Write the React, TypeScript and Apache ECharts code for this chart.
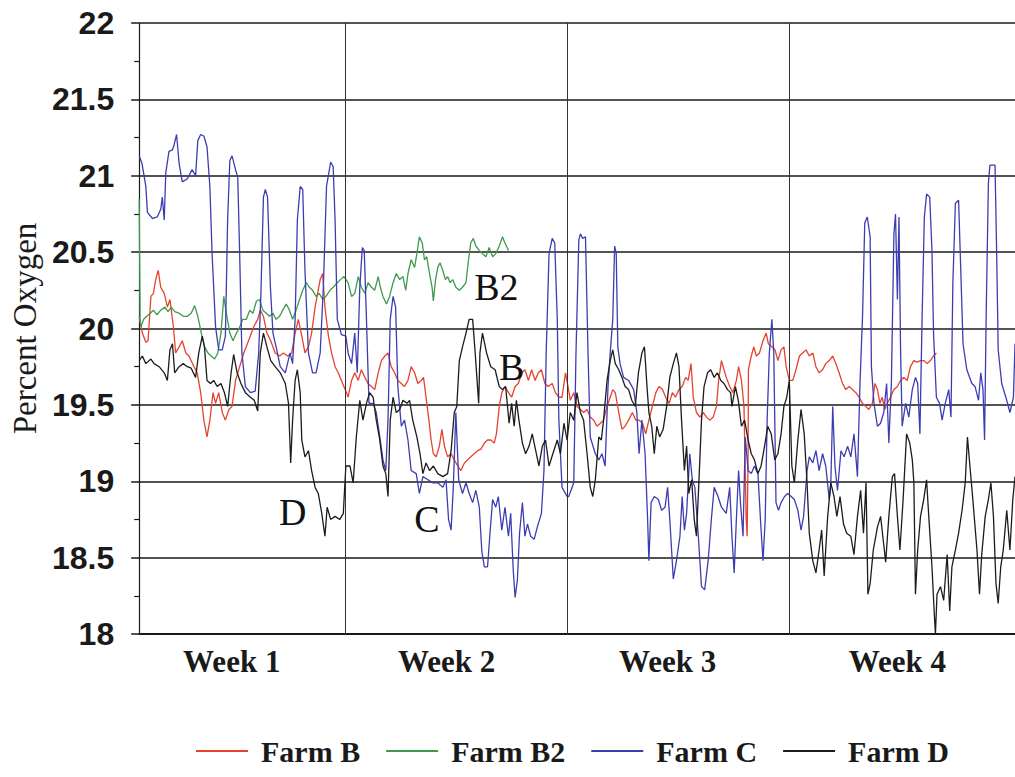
import React, { useEffect, useRef } from "react";
import * as echarts from "echarts";

// [day, percent oxygen]
const farmB: [number, number][] = [
  [0.50,20.08],[0.60,19.97],[0.71,19.91],[0.78,19.92],[0.87,20.21],[0.95,20.23],[1.02,20.32],[1.10,20.38],[1.18,20.27],[1.29,20.23],
  [1.39,20.14],[1.47,20.19],[1.58,20.01],[1.65,19.84],[1.76,19.88],[1.86,19.92],[1.97,19.84],[2.07,19.82],[2.23,19.75],[2.33,19.71],
  [2.44,19.58],[2.54,19.40],[2.64,19.29],[2.73,19.40],[2.83,19.58],[2.91,19.51],[3.01,19.58],[3.12,19.45],[3.22,19.40],[3.33,19.47],
  [3.43,19.49],[3.54,19.66],[3.67,19.75],[3.80,19.84],[3.95,19.92],[4.11,20.01],[4.24,20.06],[4.32,20.12],[4.42,20.08],[4.53,19.97],
  [4.65,19.92],[4.79,19.84],[4.93,19.82],[5.05,19.84],[5.18,19.82],[5.31,19.84],[5.42,19.97],[5.52,20.06],[5.63,19.95],[5.73,19.84],
  [5.84,19.88],[5.94,19.97],[6.05,20.14],[6.13,20.23],[6.21,20.32],[6.29,20.36],[6.36,20.14],[6.47,19.95],[6.57,19.84],[6.68,19.75],
  [6.78,19.71],[6.88,19.66],[7.04,19.58],[7.09,19.55],[7.20,19.66],[7.30,19.71],[7.41,19.66],[7.51,19.73],[7.62,19.68],[7.72,19.64],
  [7.83,19.62],[7.93,19.60],[8.04,19.71],[8.14,19.79],[8.25,19.82],[8.35,19.84],[8.45,19.75],[8.56,19.71],[8.66,19.66],[8.77,19.64],
  [8.87,19.62],[8.98,19.66],[9.08,19.75],[9.19,19.71],[9.29,19.64],[9.40,19.66],[9.47,19.68],[9.55,19.55],[9.64,19.40],[9.71,19.27],
  [9.78,19.18],[9.87,19.16],[9.97,19.23],[10.05,19.34],[10.13,19.23],[10.23,19.16],[10.34,19.18],[10.44,19.14],[10.55,19.10],[10.65,19.07],
  [10.76,19.12],[10.86,19.14],[10.96,19.16],[11.07,19.18],[11.18,19.20],[11.28,19.21],[11.39,19.25],[11.49,19.27],[11.59,19.27],[11.70,19.25],
  [11.77,19.31],[11.86,19.49],[11.94,19.58],[12.04,19.62],[12.15,19.58],[12.25,19.55],[12.36,19.62],[12.46,19.64],[12.57,19.71],[12.67,19.73],
  [12.78,19.66],[12.88,19.73],[12.99,19.66],[13.09,19.71],[13.19,19.73],[13.30,19.64],[13.40,19.62],[13.53,19.64],[13.63,19.58],[13.74,19.55],
  [13.84,19.55],[13.95,19.71],[14.03,19.62],[14.10,19.53],[14.21,19.58],[14.31,19.49],[14.42,19.47],[14.52,19.45],[14.63,19.47],[14.73,19.42],
  [14.84,19.40],[14.94,19.36],[15.05,19.38],[15.15,19.40],[15.26,19.49],[15.36,19.55],[15.44,19.60],[15.52,19.58],[15.63,19.45],[15.73,19.34],
  [15.83,19.36],[15.94,19.40],[16.06,19.45],[16.17,19.40],[16.27,19.40],[16.38,19.38],[16.48,19.31],[16.58,19.40],[16.69,19.49],[16.80,19.58],
  [16.90,19.62],[17.01,19.60],[17.11,19.55],[17.22,19.51],[17.32,19.58],[17.42,19.55],[17.53,19.60],[17.63,19.62],[17.74,19.68],[17.82,19.66],
  [17.91,19.77],[17.98,19.55],[18.08,19.45],[18.19,19.42],[18.29,19.45],[18.40,19.42],[18.50,19.40],[18.61,19.42],[18.71,19.49],[18.78,19.66],
  [18.87,19.79],[18.95,19.73],[19.02,19.68],[19.13,19.62],[19.23,19.58],[19.34,19.66],[19.41,19.75],[19.50,19.66],[19.58,19.49],[19.65,18.75],
  [19.68,18.64],[19.71,19.18],[19.72,19.73],[19.81,19.82],[19.89,19.88],[19.97,19.82],[20.07,19.84],[20.18,19.92],[20.28,19.97],[20.35,19.90],
  [20.46,19.88],[20.56,19.86],[20.65,19.79],[20.75,19.86],[20.84,19.88],[20.91,19.75],[21.01,19.66],[21.12,19.66],[21.22,19.73],[21.33,19.82],
  [21.43,19.84],[21.54,19.86],[21.64,19.82],[21.75,19.84],[21.85,19.75],[21.95,19.71],[22.06,19.73],[22.16,19.77],[22.27,19.79],[22.38,19.82],
  [22.48,19.77],[22.58,19.71],[22.69,19.64],[22.79,19.60],[22.90,19.62],[23.00,19.60],[23.11,19.58],[23.21,19.55],[23.32,19.51],[23.42,19.49],
  [23.52,19.47],[23.63,19.51],[23.71,19.64],[23.79,19.60],[23.87,19.51],[23.94,19.55],[24.02,19.47],[24.10,19.51],[24.20,19.55],[24.31,19.60],
  [24.42,19.62],[24.52,19.66],[24.62,19.68],[24.73,19.66],[24.83,19.75],[24.94,19.79],[25.04,19.78],[25.15,19.79],[25.25,19.79],[25.36,19.77],
  [25.46,19.79],[25.56,19.82],[25.65,19.84]
];

const farmB2: [number, number][] = [
  [0.50,20.85],[0.53,20.05],[0.55,20.01],[0.64,20.06],[0.74,20.08],[0.85,20.10],[0.95,20.12],[1.06,20.09],[1.18,20.12],[1.31,20.14],
  [1.41,20.11],[1.51,20.14],[1.62,20.11],[1.76,20.10],[1.89,20.08],[2.02,20.08],[2.14,20.10],[2.25,20.15],[2.35,20.08],[2.46,19.97],
  [2.56,19.88],[2.67,19.84],[2.77,19.82],[2.88,19.80],[2.98,19.84],[3.08,19.97],[3.17,20.21],[3.25,20.10],[3.36,19.97],[3.46,19.92],
  [3.57,19.97],[3.67,20.01],[3.77,20.06],[3.88,20.06],[3.99,20.12],[4.09,20.10],[4.20,20.18],[4.30,20.19],[4.40,20.12],[4.51,20.10],
  [4.61,20.08],[4.72,20.10],[4.82,20.06],[4.93,20.08],[5.03,20.12],[5.14,20.16],[5.24,20.12],[5.34,20.06],[5.45,20.12],[5.56,20.19],
  [5.66,20.25],[5.77,20.30],[5.87,20.27],[5.97,20.25],[6.08,20.21],[6.18,20.23],[6.29,20.19],[6.39,20.21],[6.52,20.25],[6.62,20.27],
  [6.75,20.30],[6.85,20.32],[6.96,20.34],[7.09,20.30],[7.20,20.21],[7.30,20.23],[7.41,20.34],[7.51,20.27],[7.62,20.23],[7.72,20.30],
  [7.83,20.27],[7.93,20.25],[8.04,20.34],[8.11,20.27],[8.19,20.21],[8.30,20.16],[8.40,20.21],[8.51,20.30],[8.61,20.36],[8.72,20.32],
  [8.82,20.34],[8.91,20.25],[8.98,20.36],[9.08,20.45],[9.19,20.40],[9.26,20.49],[9.34,20.60],[9.43,20.56],[9.50,20.45],[9.57,20.47],
  [9.66,20.36],[9.74,20.27],[9.78,20.18],[9.85,20.32],[9.92,20.40],[9.99,20.43],[10.08,20.38],[10.16,20.32],[10.23,20.34],[10.31,20.30],
  [10.39,20.32],[10.49,20.27],[10.60,20.25],[10.70,20.27],[10.81,20.30],[10.89,20.45],[10.96,20.56],[11.04,20.59],[11.12,20.54],[11.23,20.51],
  [11.33,20.49],[11.44,20.47],[11.54,20.53],[11.65,20.47],[11.75,20.49],[11.86,20.54],[11.96,20.60],[12.04,20.56],[12.15,20.51]
];

const farmC: [number, number][] = [
  [0.50,21.13],[0.59,21.08],[0.71,20.93],[0.76,20.76],[0.92,20.72],[1.07,20.73],[1.18,20.78],[1.23,20.86],[1.29,20.71],[1.34,21.02],
  [1.44,21.16],[1.55,21.17],[1.60,21.20],[1.68,21.27],[1.76,21.08],[1.86,20.96],[2.02,20.98],[2.17,21.04],[2.28,21.00],[2.35,21.23],
  [2.44,21.27],[2.54,21.26],[2.64,21.19],[2.73,20.93],[2.80,20.49],[2.91,20.01],[3.01,19.86],[3.12,19.86],[3.22,19.95],[3.29,20.71],
  [3.36,21.10],[3.43,21.13],[3.54,21.04],[3.61,20.99],[3.67,20.49],[3.74,19.84],[3.85,19.62],[4.01,19.58],[4.16,19.59],[4.27,19.84],
  [4.34,20.23],[4.42,20.86],[4.48,20.91],[4.55,20.86],[4.64,20.27],[4.72,19.97],[4.84,19.86],[4.95,19.75],[5.11,19.71],[5.26,19.84],
  [5.34,19.77],[5.42,20.06],[5.49,20.71],[5.58,20.93],[5.66,20.91],[5.73,20.38],[5.84,19.84],[5.97,19.71],[6.08,19.71],[6.21,19.84],
  [6.31,20.27],[6.41,20.93],[6.54,21.09],[6.62,21.06],[6.68,20.71],[6.75,20.06],[6.88,19.96],[7.02,19.95],[7.09,19.84],[7.20,19.77],
  [7.30,19.97],[7.38,19.71],[7.46,20.27],[7.54,20.53],[7.60,20.51],[7.67,20.06],[7.75,19.51],[7.88,19.51],[7.98,19.45],[8.09,19.29],
  [8.19,19.14],[8.28,19.07],[8.35,19.40],[8.42,20.06],[8.51,20.21],[8.59,20.14],[8.66,19.62],[8.77,19.36],[8.87,19.40],[8.98,19.27],
  [9.08,19.07],[9.24,19.05],[9.34,18.92],[9.45,19.03],[9.61,19.01],[9.76,18.99],[9.92,18.99],[10.08,18.96],[10.18,19.01],[10.26,18.75],
  [10.34,18.68],[10.41,18.96],[10.49,19.45],[10.58,19.01],[10.70,18.92],[10.81,18.99],[10.91,18.92],[11.02,18.86],[11.12,18.94],[11.23,18.83],
  [11.31,18.54],[11.39,18.44],[11.49,18.44],[11.56,18.64],[11.65,18.88],[11.75,18.83],[11.83,18.90],[11.94,18.68],[12.04,18.83],[12.15,18.64],
  [12.22,18.79],[12.30,18.42],[12.36,18.24],[12.43,18.35],[12.50,18.66],[12.59,18.86],[12.67,18.64],[12.75,18.72],[12.85,18.64],[12.96,18.62],
  [13.06,18.70],[13.19,18.79],[13.27,19.07],[13.34,19.84],[13.43,20.49],[13.53,20.59],[13.61,20.56],[13.69,20.06],[13.74,19.40],[13.84,18.96],
  [14.00,18.90],[14.05,18.90],[14.21,18.99],[14.28,19.84],[14.37,20.58],[14.42,20.62],[14.49,20.59],[14.58,20.60],[14.66,19.84],[14.73,19.29],
  [14.89,19.18],[15.00,19.14],[15.10,19.18],[15.20,19.10],[15.29,19.62],[15.36,19.84],[15.44,20.06],[15.50,20.54],[15.55,20.49],[15.60,19.88],
  [15.67,19.77],[15.78,19.68],[15.94,19.66],[16.10,19.60],[16.20,19.45],[16.27,19.18],[16.36,19.40],[16.46,19.18],[16.54,18.75],[16.58,18.48],
  [16.65,18.86],[16.75,18.90],[16.88,18.88],[16.98,18.81],[17.09,18.83],[17.17,18.96],[17.24,18.75],[17.35,18.36],[17.45,18.48],[17.56,18.64],
  [17.63,18.90],[17.70,18.68],[17.77,18.79],[17.87,19.18],[17.95,19.01],[18.03,18.96],[18.14,18.64],[18.24,18.31],[18.34,18.29],[18.45,18.48],
  [18.55,18.75],[18.64,18.96],[18.76,18.90],[18.87,18.83],[19.02,18.79],[19.13,18.96],[19.20,18.64],[19.27,18.40],[19.34,18.75],[19.41,19.07],
  [19.47,18.86],[19.55,18.64],[19.62,19.29],[19.71,19.07],[19.81,19.05],[19.91,19.10],[20.02,19.05],[20.10,18.75],[20.18,18.48],[20.25,18.75],
  [20.31,19.40],[20.38,19.84],[20.46,20.06],[20.52,19.84],[20.59,18.86],[20.67,18.81],[20.75,18.86],[20.86,18.90],[20.96,18.92],[21.07,18.90],
  [21.17,18.88],[21.28,18.81],[21.38,18.68],[21.46,18.77],[21.57,19.07],[21.64,19.16],[21.75,19.12],[21.85,19.20],[21.95,19.07],[22.06,19.18],
  [22.16,19.10],[22.27,18.88],[22.32,18.99],[22.38,19.49],[22.45,19.10],[22.53,18.94],[22.64,19.20],[22.74,19.16],[22.85,19.23],[22.95,19.16],
  [23.05,19.31],[23.16,19.03],[23.24,19.64],[23.32,20.08],[23.39,20.69],[23.47,20.73],[23.56,20.60],[23.60,19.75],[23.68,19.51],[23.79,19.36],
  [23.89,19.38],[23.99,19.45],[24.08,19.64],[24.15,19.25],[24.23,19.64],[24.31,20.62],[24.36,20.75],[24.42,20.19],[24.47,20.73],[24.52,19.86],
  [24.57,19.36],[24.68,19.51],[24.78,19.42],[24.89,19.60],[24.99,19.68],[25.06,19.64],[25.13,19.31],[25.20,20.08],[25.27,20.73],[25.34,20.88],
  [25.44,20.86],[25.51,20.51],[25.56,19.97],[25.65,19.55],[25.75,19.51],[25.83,19.40],[25.93,19.51],[26.04,19.60],[26.11,19.42],[26.17,20.30],
  [26.25,20.82],[26.35,20.84],[26.40,20.51],[26.49,19.90],[26.61,19.73],[26.77,19.64],[26.87,19.62],[26.98,19.53],[27.05,19.71],[27.12,19.60],
  [27.17,19.27],[27.22,20.08],[27.29,20.95],[27.34,21.07],[27.50,21.07],[27.55,20.51],[27.60,19.86],[27.71,19.64],[27.87,19.53],[27.97,19.45],
  [28.08,19.55],[28.13,19.90]
];

const farmD: [number, number][] = [
  [0.50,19.79],[0.60,19.82],[0.71,19.77],[0.87,19.80],[0.97,19.77],[1.13,19.75],[1.29,19.71],[1.39,19.66],[1.47,19.86],[1.55,19.90],
  [1.62,19.71],[1.76,19.75],[1.89,19.77],[2.02,19.75],[2.14,19.74],[2.28,19.68],[2.38,19.84],[2.49,19.95],[2.56,19.88],[2.64,19.66],
  [2.75,19.64],[2.85,19.66],[2.96,19.62],[3.08,19.64],[3.19,19.58],[3.29,19.49],[3.40,19.71],[3.48,19.83],[3.59,19.71],[3.71,19.64],
  [3.85,19.58],[4.01,19.55],[4.13,19.53],[4.24,19.46],[4.32,19.84],[4.42,19.97],[4.53,19.88],[4.65,19.79],[4.79,19.75],[4.95,19.71],
  [5.11,19.64],[5.21,19.51],[5.28,19.12],[5.34,19.40],[5.42,19.66],[5.49,19.73],[5.58,19.58],[5.63,19.27],[5.73,19.16],[5.84,19.20],
  [5.94,19.07],[6.05,18.96],[6.15,18.92],[6.26,18.79],[6.36,18.64],[6.43,18.83],[6.54,18.75],[6.68,18.77],[6.83,18.75],[6.94,18.79],
  [7.02,19.10],[7.15,19.10],[7.25,18.99],[7.35,19.29],[7.46,19.53],[7.56,19.40],[7.67,19.51],[7.77,19.58],[7.88,19.55],[7.98,19.40],
  [8.09,19.27],[8.19,19.10],[8.28,19.05],[8.35,18.90],[8.42,19.40],[8.51,19.55],[8.61,19.45],[8.72,19.47],[8.82,19.53],[8.95,19.51],
  [9.03,19.53],[9.13,19.40],[9.26,19.29],[9.36,19.18],[9.45,19.05],[9.55,19.12],[9.66,19.07],[9.78,19.10],[9.92,19.05],[10.08,19.03],
  [10.23,19.05],[10.34,19.20],[10.44,19.45],[10.52,19.49],[10.60,19.79],[10.70,19.88],[10.81,19.97],[10.91,20.06],[11.02,20.06],[11.10,19.84],
  [11.21,19.51],[11.25,19.84],[11.33,19.97],[11.46,19.84],[11.59,19.75],[11.73,19.73],[11.86,19.62],[11.96,19.60],[12.06,19.62],[12.17,19.38],
  [12.25,19.51],[12.33,19.36],[12.40,19.53],[12.48,19.40],[12.59,19.25],[12.69,19.18],[12.80,19.23],[12.90,19.31],[13.01,19.20],[13.11,19.10],
  [13.22,19.23],[13.32,19.27],[13.43,19.10],[13.55,19.18],[13.69,19.27],[13.79,19.18],[13.90,19.38],[14.00,19.27],[14.10,19.45],[14.21,19.40],
  [14.31,19.58],[14.42,19.45],[14.52,19.40],[14.63,19.18],[14.73,18.96],[14.81,18.90],[14.89,19.01],[15.00,19.29],[15.08,19.27],[15.15,19.40],
  [15.26,19.66],[15.36,19.79],[15.44,19.86],[15.52,19.77],[15.63,19.73],[15.73,19.68],[15.83,19.62],[15.94,19.60],[16.04,19.53],[16.15,19.49],
  [16.25,19.71],[16.36,19.84],[16.44,19.88],[16.52,19.62],[16.58,19.45],[16.67,19.36],[16.75,19.18],[16.83,19.36],[16.92,19.29],[17.03,19.34],
  [17.14,19.49],[17.24,19.68],[17.35,19.77],[17.45,19.84],[17.53,19.75],[17.61,19.40],[17.70,19.07],[17.77,19.23],[17.84,18.92],[17.93,19.01],
  [18.01,18.75],[18.08,18.64],[18.15,18.96],[18.24,19.40],[18.32,19.62],[18.43,19.71],[18.53,19.73],[18.64,19.68],[18.74,19.71],[18.85,19.66],
  [18.95,19.64],[19.06,19.60],[19.16,19.58],[19.20,19.49],[19.31,19.62],[19.40,19.53],[19.50,19.36],[19.60,19.40],[19.71,19.27],[19.81,19.18],
  [19.91,19.14],[20.02,19.05],[20.12,19.10],[20.23,19.23],[20.33,19.36],[20.44,19.31],[20.55,19.14],[20.65,19.18],[20.75,19.31],[20.84,19.49],
  [20.93,19.55],[21.01,19.66],[21.09,19.10],[21.17,18.99],[21.28,19.27],[21.38,19.47],[21.48,19.31],[21.57,18.99],[21.64,18.66],[21.75,18.48],
  [21.85,18.40],[21.95,18.55],[22.03,18.68],[22.11,18.38],[22.22,18.77],[22.32,18.99],[22.42,18.90],[22.51,18.77],[22.61,18.90],[22.72,18.72],
  [22.82,18.66],[22.95,18.64],[23.05,18.52],[23.16,18.77],[23.26,18.94],[23.35,18.66],[23.43,18.99],[23.49,18.26],[23.56,18.33],[23.66,18.55],
  [23.79,18.70],[23.89,18.77],[23.97,18.62],[24.05,18.47],[24.15,18.77],[24.26,19.03],[24.33,19.05],[24.42,18.77],[24.50,18.55],[24.60,18.88],
  [24.71,19.31],[24.81,19.25],[24.89,19.14],[24.94,18.99],[24.99,18.26],[25.06,18.55],[25.15,18.77],[25.25,18.88],[25.34,19.01],[25.41,18.77],
  [25.51,18.44],[25.59,18.11],[25.62,18.00],[25.67,18.26],[25.78,18.31],[25.88,18.22],[25.99,18.52],[26.07,18.15],[26.14,18.44],[26.25,18.55],
  [26.35,18.66],[26.46,18.81],[26.56,18.99],[26.63,19.29],[26.72,19.07],[26.80,18.88],[26.93,18.55],[27.01,18.26],[27.08,18.52],[27.19,18.77],
  [27.29,18.88],[27.37,18.99],[27.45,18.77],[27.53,18.33],[27.60,18.20],[27.68,18.44],[27.76,18.55],[27.87,18.81],[27.97,18.55],[28.06,18.88],
  [28.13,19.03]
];

const seriesNames = ["Farm B", "Farm B2", "Farm C", "Farm D"];
const seriesColors = ["#e5432e", "#3f9a4f", "#3d3db3", "#1c1c1c"];
const weekBoundaries = [7, 14, 21];
const weekLabels = ["Week 1", "Week 2", "Week 3", "Week 4"];
const weekLabelDays = [3.42, 10.2, 17.17, 24.42];
const annotations: { text: string; day: number; value: number }[] = [
  { text: "B2", day: 11.77, value: 20.27 },
  { text: "B", day: 12.25, value: 19.75 },
  { text: "D", day: 5.34, value: 18.8 },
  { text: "C", day: 9.58, value: 18.75 },
];

const X_MIN = 0.5;
const X_MAX = 28.13;

export default function App() {
  const ref = useRef<HTMLDivElement>(null);
  useEffect(() => {
    if (!ref.current) return;
    const chart = echarts.init(ref.current, undefined, { renderer: "svg" });
    const datasets = [farmB, farmB2, farmC, farmD];
    const option: any = {
      animation: false,
      backgroundColor: "#ffffff",
      grid: { left: 135, right: 0, top: 23, bottom: 143, containLabel: false },
      legend: {
        data: seriesNames,
        left: 191,
        top: 731,
        icon: "rect",
        itemWidth: 52,
        itemHeight: 2,
        itemGap: 26,
        textStyle: {
          fontFamily: "Liberation Serif",
          fontWeight: "bold",
          fontSize: 30,
          color: "#1a1a1a",
          padding: [0, 0, 0, 8],
        },
      },
      xAxis: {
        type: "value",
        min: X_MIN,
        max: X_MAX,
        axisLine: { show: true, lineStyle: { color: "#1a1a1a", width: 2 } },
        axisTick: { show: false },
        axisLabel: { show: false },
        splitLine: { show: false },
      },
      yAxis: {
        type: "value",
        min: 18,
        max: 22,
        interval: 0.5,
        name: "Percent Oxygen",
        nameLocation: "middle",
        nameGap: 97,
        nameTextStyle: { fontFamily: "Liberation Serif", fontSize: 33, color: "#1a1a1a" },
        axisLine: { show: true, lineStyle: { color: "#1a1a1a", width: 1.2 } },
        axisTick: { show: true, length: 8, lineStyle: { color: "#1a1a1a", width: 1.5 } },
        minorTick: { show: true, splitNumber: 2, length: 5, lineStyle: { color: "#1a1a1a", width: 1.2 } },
        axisLabel: {
          margin: 25,
          fontFamily: "Liberation Sans",
          fontWeight: "bold",
          fontSize: 32,
          color: "#1a1a1a",
        },
        splitLine: { show: true, lineStyle: { color: "#1a1a1a", width: 1.5 } },
      },
      series: [
        {
          name: "weeks",
          type: "line",
          data: [],
          z: 1,
          silent: true,
          markLine: {
            silent: true,
            symbol: "none",
            label: { show: false },
            lineStyle: { color: "#333333", width: 1, type: "solid" },
            data: weekBoundaries.map((d) => ({ xAxis: d })),
          },
        },
        ...datasets.map((data, i) => ({
          name: seriesNames[i],
          type: "line",
          data,
          showSymbol: false,
          symbol: "none",
          color: seriesColors[i],
          lineStyle: { color: seriesColors[i], width: 1.3 },
          z: 2 + i,
        })),
      ],
    };
    chart.setOption(option);

    const graphics: any[] = [];
    weekLabels.forEach((t, i) => {
      const p = chart.convertToPixel({ gridIndex: 0 }, [weekLabelDays[i], 18]) as number[];
      graphics.push({
        type: "text",
        x: p[0],
        y: 661,
        style: {
          text: t,
          fontFamily: "Liberation Serif",
          fontWeight: "bold",
          fontSize: 31,
          fill: "#1a1a1a",
          align: "center",
          verticalAlign: "middle",
        },
      });
    });
    annotations.forEach((a) => {
      const p = chart.convertToPixel({ gridIndex: 0 }, [a.day, a.value]) as number[];
      graphics.push({
        type: "text",
        x: p[0],
        y: p[1],
        z: 100,
        style: {
          text: a.text,
          fontFamily: "Liberation Serif",
          fontSize: 38,
          fill: "#111111",
          align: "center",
          verticalAlign: "middle",
        },
      });
    });
    chart.setOption({ graphic: graphics });

    return () => chart.dispose();
  }, []);

  return (
    <div
      ref={ref}
      style={{ position: "fixed", left: 0, top: 0, width: 1015, height: 777, background: "#fff" }}
    />
  );
}
